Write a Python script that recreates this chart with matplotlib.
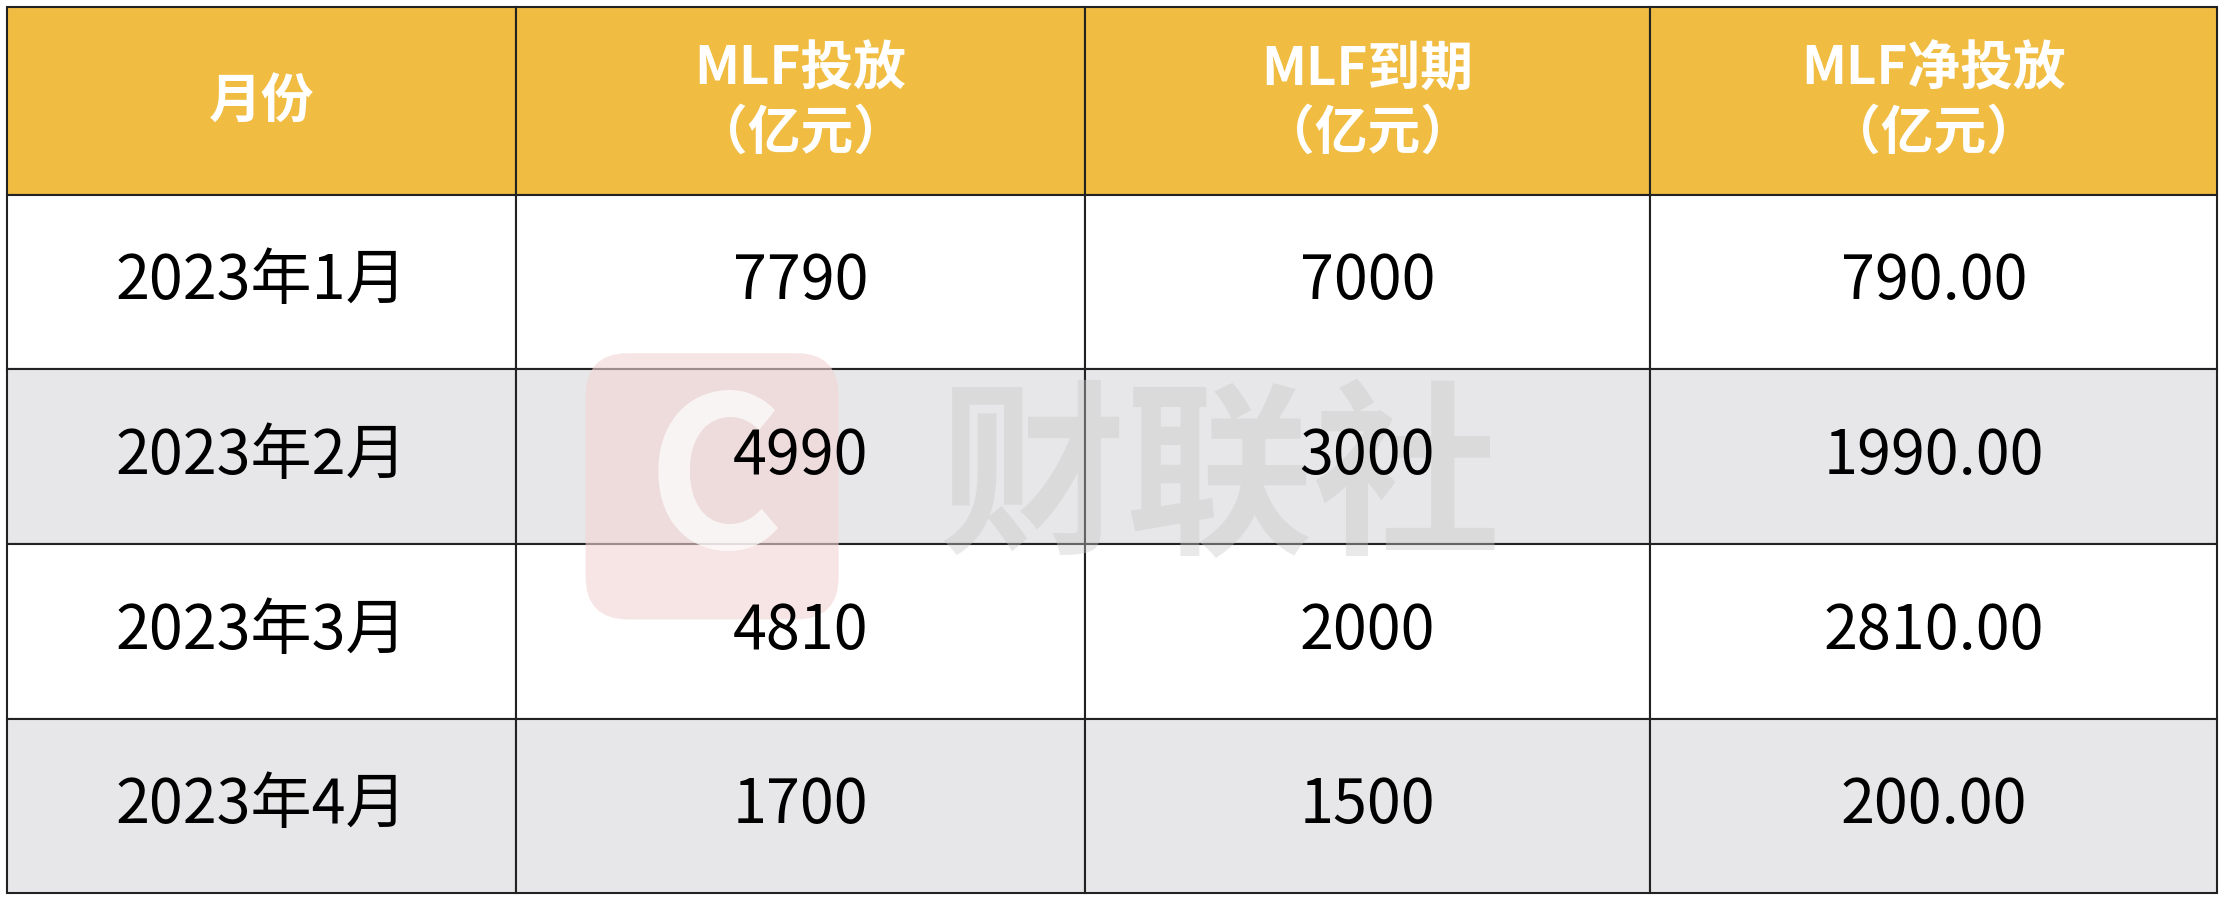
import matplotlib.pyplot as plt
from matplotlib.patches import Rectangle, FancyBboxPatch

plt.rcParams['font.family'] = ['Noto Sans CJK SC', 'DejaVu Sans']

headers = ['月份', 'MLF投放\n（亿元）', 'MLF到期\n（亿元）', 'MLF净投放\n（亿元）']
months = ['2023年1月', '2023年2月', '2023年3月', '2023年4月']
issued = [7790, 4990, 4810, 1700]
matured = [7000, 3000, 2000, 1500]
net = [790.00, 1990.00, 2810.00, 200.00]

# layout in reference pixel units
W, H = 1566, 632
col_x = [5, 363, 763, 1161, 1560]
row_y = [5, 137, 259, 382, 505, 627]

fig = plt.figure(figsize=(22.26, 9), dpi=100)
ax = fig.add_axes([0, 0, 1, 1])
ax.set_xlim(0, W)
ax.set_ylim(H, 0)
ax.axis('off')

for r in range(5):
    y0, y1 = row_y[r], row_y[r + 1]
    if r == 0:
        fc = '#F0BC42'
    else:
        fc = 'white' if r % 2 == 1 else '#E7E7E9'
    for c in range(4):
        x0, x1 = col_x[c], col_x[c + 1]
        ax.add_patch(Rectangle((x0, y0), x1 - x0, y1 - y0, fc=fc, ec='#222222', lw=1.5, zorder=1))
        cx, cy = (x0 + x1) / 2, (y0 + y1) / 2
        if r == 0:
            ax.text(cx, cy, headers[c], fontsize=38, fontweight='bold', color='white',
                    ha='center', va='center', linespacing=1.25, zorder=3)
        else:
            i = r - 1
            vals = [months[i], f'{issued[i]}', f'{matured[i]}', f'{net[i]:.2f}']
            ax.text(cx, cy, vals[c], fontsize=44, color='black',
                    ha='center', va='center', zorder=3)

# watermark, behind the text
ax.add_patch(FancyBboxPatch((412, 248), 178, 187, boxstyle='round,pad=0,rounding_size=30',
                            fc='#f3d3d3', ec='none', alpha=0.6, zorder=2))
ax.text(503, 342, 'C', fontsize=150, fontweight='bold', color='white', alpha=0.7,
        ha='center', va='center', zorder=2)
ax.text(858, 340, '财联社', fontsize=135, fontweight='bold', color='#c8c8c8', alpha=0.4,
        ha='center', va='center', zorder=2)

fig.savefig('out.png', dpi=100)
